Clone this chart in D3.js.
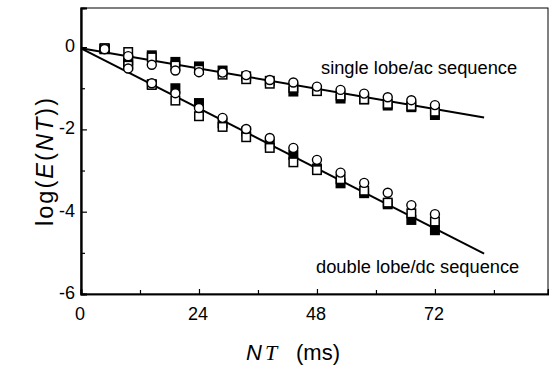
<!DOCTYPE html>
<html><head><meta charset="utf-8">
<script src="https://cdn.jsdelivr.net/npm/d3@7"></script>
<style>html,body{margin:0;padding:0;background:#fff;}svg{display:block;}</style>
</head><body>
<svg id="chart" width="549" height="366"></svg>
<script>
// ---- data ----
const times = [4.8, 9.6, 14.4, 19.2, 24, 28.8, 33.6, 38.4, 43.2, 48, 52.8, 57.6, 62.4, 67.2, 72];
const singleCircle = [-0.05, -0.22, -0.43, -0.57, -0.61, -0.62, -0.68, -0.80, -0.86, -0.96, -1.04, -1.13, -1.22, -1.29, -1.41];
const singleOpen   = [-0.03, -0.12, -0.25, -0.45, -0.55, -0.67, -0.78, -0.89, -0.99, -1.07, -1.18, -1.27, -1.38, -1.43, -1.57];
const singleFilled = [-0.05, -0.32, -0.20, -0.36, -0.47, -0.57, -0.71, -0.82, -1.08, -1.05, -1.25, -1.27, -1.42, -1.46, -1.65];
const doubleCircle = [-0.05, -0.52, -0.88, -1.12, -1.48, -1.72, -1.99, -2.21, -2.45, -2.74, -3.05, -3.30, -3.54, -3.84, -4.06];
const doubleOpen   = [-0.03, -0.45, -0.92, -1.30, -1.68, -1.94, -2.19, -2.45, -2.80, -2.99, -3.21, -3.49, -3.78, -4.04, -4.24];
const doubleFilled = [-0.05, -0.38, -0.90, -1.00, -1.36, -1.85, -2.05, -2.35, -2.62, -2.95, -3.31, -3.55, -3.82, -4.20, -4.45];
const singleFit = [[0, -0.03], [82, -1.71]];
const doubleFit = [[0, -0.03], [82, -5.02]];
const xMajorTicks = [0, 24, 48, 72];
const xMinorTicks = [12, 36, 60, 84];
const yMajorTicks = [0, -2, -4, -6];
const yMinorTicks = [-1, -3, -5];
const labels = {single: "single lobe/ac sequence", double: "double lobe/dc sequence"};

// ---- layout ----
const svg = d3.select("#chart");
const L = 81, R = 548, T = 8, B = 294;
const x = d3.scaleLinear().domain([0, 95]).range([L, R]);
const y = d3.scaleLinear().domain([-6, 0.95]).range([B, T]);
const font = "'Liberation Sans', Arial, Helvetica, sans-serif";

// frame
svg.append("rect").attr("x", L).attr("y", T).attr("width", R - L).attr("height", B - T)
  .attr("fill", "none").attr("stroke", "#000").attr("stroke-width", 1);

// axes (inward ticks)
const gx = svg.append("g").attr("transform", `translate(0,${B})`)
  .call(d3.axisTop(x).tickValues(xMajorTicks).tickSize(5).tickFormat(""));
const gxm = svg.append("g").attr("transform", `translate(0,${B})`)
  .call(d3.axisTop(x).tickValues(xMinorTicks).tickSize(4).tickFormat(""));
const gy = svg.append("g").attr("transform", `translate(${L},0)`)
  .call(d3.axisRight(y).tickValues(yMajorTicks).tickSize(6).tickFormat(""));
const gym = svg.append("g").attr("transform", `translate(${L},0)`)
  .call(d3.axisRight(y).tickValues(yMinorTicks).tickSize(4).tickFormat(""));
[gx, gxm, gy, gym].forEach(g => {
  g.selectAll(".domain").attr("stroke", "#000").attr("stroke-width", 1.6);
  g.selectAll(".tick line").attr("stroke", "#000").attr("stroke-width", 1.2);
});
gy.selectAll(".domain").attr("stroke-width", 2);

// tick labels
svg.append("g").selectAll("text").data(xMajorTicks).join("text")
  .attr("x", d => x(d) - 1).attr("y", B + 26).attr("text-anchor", "middle")
  .attr("font-family", font).attr("font-size", 18).text(d => d);
svg.append("g").selectAll("text").data(yMajorTicks).join("text")
  .attr("x", L - 6).attr("y", d => y(d) + 5).attr("text-anchor", "end")
  .attr("font-family", font).attr("font-size", 18).text(d => d);

// axis titles
const xt = svg.append("text").attr("y", 360).attr("font-family", font).attr("font-size", 22);
xt.append("tspan").attr("x", 246).attr("font-style", "italic").text("N");
xt.append("tspan").attr("x", 265).attr("font-style", "italic").attr("font-family", "'Liberation Serif', serif").text("T");
xt.append("tspan").attr("x", 296).text("(ms)");

const yt = svg.append("text").attr("transform", "translate(53,162) rotate(-90)")
  .attr("text-anchor", "middle").attr("font-family", font).attr("font-size", 23.5)
  .attr("textLength", 128).attr("lengthAdjust", "spacing");
yt.append("tspan").text("log(");
yt.append("tspan").attr("font-style", "italic").text("E");
yt.append("tspan").text("(");
yt.append("tspan").attr("font-style", "italic").text("NT");
yt.append("tspan").text("))");

// fit lines
const line = d3.line().x(d => x(d[0])).y(d => y(d[1]));
[singleFit, doubleFit].forEach(f => {
  svg.append("path").attr("d", line(f)).attr("fill", "none").attr("stroke", "#000").attr("stroke-width", 2);
});

// markers
const s = 8.5;
function squares(vals, filled) {
  svg.append("g").selectAll("rect").data(vals).join("rect")
    .attr("x", (d, i) => x(times[i]) - s / 2).attr("y", d => y(d) - s / 2)
    .attr("width", s).attr("height", s)
    .attr("fill", filled ? "#000" : "#fff").attr("stroke", "#000").attr("stroke-width", 1.5);
}
function circles(vals) {
  svg.append("g").selectAll("circle").data(vals).join("circle")
    .attr("cx", (d, i) => x(times[i])).attr("cy", d => y(d)).attr("r", 4.5)
    .attr("fill", "#fff").attr("stroke", "#000").attr("stroke-width", 1.4);
}
squares(doubleFilled, true); squares(singleFilled, true);
squares(doubleOpen, false); squares(singleOpen, false);
circles(doubleCircle); circles(singleCircle);

// annotations
svg.append("text").attr("x", 321).attr("y", 74).attr("font-family", font).attr("font-size", 18.3).text(labels.single);
svg.append("text").attr("x", 316).attr("y", 273).attr("font-family", font).attr("font-size", 18.3).text(labels.double);
</script>
</body></html>
